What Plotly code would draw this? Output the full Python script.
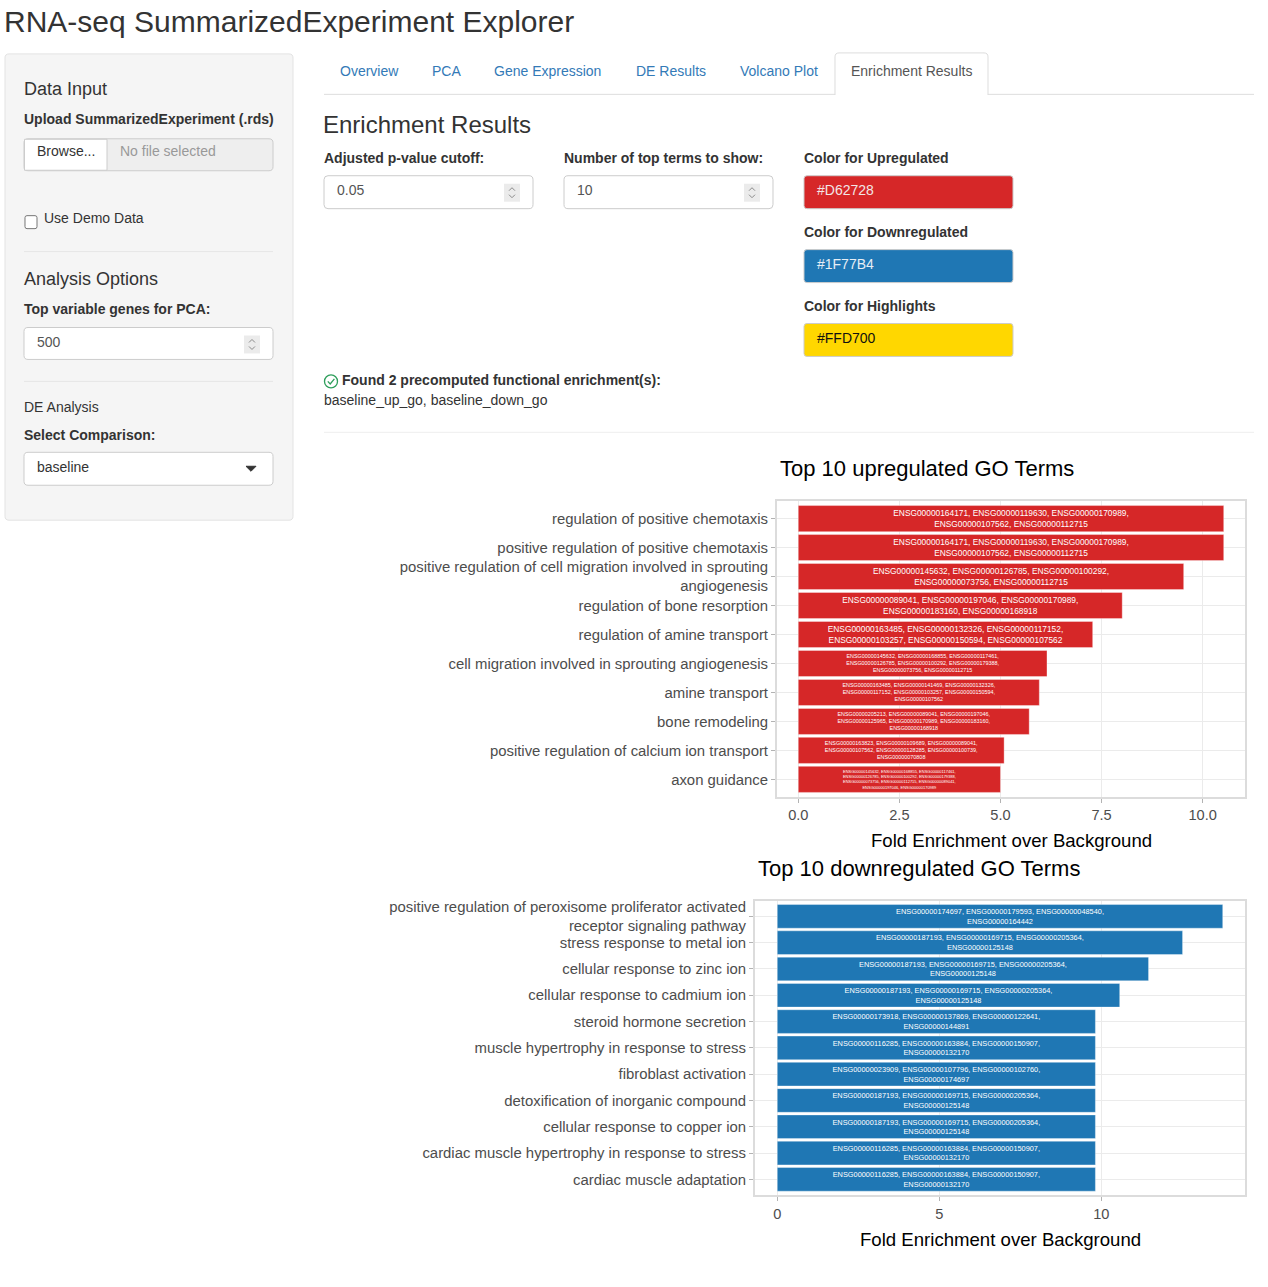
import plotly.graph_objects as go

W, H = 1268, 1287
FONT = "Liberation Sans, Arial, Helvetica, sans-serif"
TXT_DY = -1.5                # small vertical correction for text annotations

# ---------------- data ----------------
up_terms = [
    "regulation of positive chemotaxis",
    "positive regulation of positive chemotaxis",
    "positive regulation of cell migration involved in sprouting<br>angiogenesis",
    "regulation of bone resorption",
    "regulation of amine transport",
    "cell migration involved in sprouting angiogenesis",
    "amine transport",
    "bone remodeling",
    "positive regulation of calcium ion transport",
    "axon guidance",
]
up_fold = [10.52, 10.52, 9.53, 8.01, 7.28, 6.15, 5.96, 5.71, 5.09, 5.00]
up_genes = [
    "ENSG00000164171, ENSG00000119630, ENSG00000170989,<br>ENSG00000107562, ENSG00000112715",
    "ENSG00000164171, ENSG00000119630, ENSG00000170989,<br>ENSG00000107562, ENSG00000112715",
    "ENSG00000145632, ENSG00000126785, ENSG00000100292,<br>ENSG00000073756, ENSG00000112715",
    "ENSG00000089041, ENSG00000197046, ENSG00000170989,<br>ENSG00000183160, ENSG00000168918",
    "ENSG00000163485, ENSG00000132326, ENSG00000117152,<br>ENSG00000103257, ENSG00000150594, ENSG00000107562",
    "ENSG00000145632, ENSG00000168855, ENSG00000117461,<br>ENSG00000126785, ENSG00000100292, ENSG00000179388,<br>ENSG00000073756, ENSG00000112715",
    "ENSG00000163485, ENSG00000141469, ENSG00000132326,<br>ENSG00000117152, ENSG00000103257, ENSG00000150594,<br>ENSG00000107562",
    "ENSG00000205213, ENSG00000089041, ENSG00000197046,<br>ENSG00000125965, ENSG00000170989, ENSG00000183160,<br>ENSG00000168918",
    "ENSG00000163823, ENSG00000109689, ENSG00000089041,<br>ENSG00000107562, ENSG00000128285, ENSG00000100739,<br>ENSG00000070808",
    "ENSG00000145632, ENSG00000168855, ENSG00000117461,<br>ENSG00000126785, ENSG00000100292, ENSG00000179388,<br>ENSG00000073756, ENSG00000112715, ENSG00000089041,<br>ENSG00000197046, ENSG00000170989",
]

down_terms = [
    "positive regulation of peroxisome proliferator activated<br>receptor signaling pathway",
    "stress response to metal ion",
    "cellular response to zinc ion",
    "cellular response to cadmium ion",
    "steroid hormone secretion",
    "muscle hypertrophy in response to stress",
    "fibroblast activation",
    "detoxification of inorganic compound",
    "cellular response to copper ion",
    "cardiac muscle hypertrophy in response to stress",
    "cardiac muscle adaptation",
]
down_fold = [13.75, 12.51, 11.46, 10.57, 9.82, 9.82, 9.82, 9.82, 9.82, 9.82, 9.82]
down_genes = [
    "ENSG00000174697, ENSG00000179593, ENSG00000048540,<br>ENSG00000164442",
    "ENSG00000187193, ENSG00000169715, ENSG00000205364,<br>ENSG00000125148",
    "ENSG00000187193, ENSG00000169715, ENSG00000205364,<br>ENSG00000125148",
    "ENSG00000187193, ENSG00000169715, ENSG00000205364,<br>ENSG00000125148",
    "ENSG00000173918, ENSG00000137869, ENSG00000122641,<br>ENSG00000144891",
    "ENSG00000116285, ENSG00000163884, ENSG00000150907,<br>ENSG00000132170",
    "ENSG00000023909, ENSG00000107796, ENSG00000102760,<br>ENSG00000174697",
    "ENSG00000187193, ENSG00000169715, ENSG00000205364,<br>ENSG00000125148",
    "ENSG00000187193, ENSG00000169715, ENSG00000205364,<br>ENSG00000125148",
    "ENSG00000116285, ENSG00000163884, ENSG00000150907,<br>ENSG00000132170",
    "ENSG00000116285, ENSG00000163884, ENSG00000150907,<br>ENSG00000132170",
]

up_ticks = [0, 2.5, 5, 7.5, 10]
up_ticklabels = ["0.0", "2.5", "5.0", "7.5", "10.0"]
down_ticks = [0, 5, 10]
down_ticklabels = ["0", "5", "10"]

UP_COLOR = "#D62728"
DOWN_COLOR = "#1F77B4"
HIGHLIGHT_COLOR = "#FFD700"

# ---------------- helpers (page pixel -> paper) ----------------
def X(px):
    return px / W


def Y(py):
    return 1 - py / H


def P(x, y):
    return f"{X(x):.6f},{Y(y):.6f}"


shapes = []
anns = []


def rrect(x0, y0, x1, y1, r=4, fill="white", line="#cccccc", lw=1, top_only=False):
    if top_only:
        path = (f"M {P(x0, y1)} L {P(x0, y0 + r)} Q {P(x0, y0)} {P(x0 + r, y0)} "
                f"L {P(x1 - r, y0)} Q {P(x1, y0)} {P(x1, y0 + r)} L {P(x1, y1)}")
    else:
        path = (f"M {P(x0 + r, y0)} L {P(x1 - r, y0)} Q {P(x1, y0)} {P(x1, y0 + r)} "
                f"L {P(x1, y1 - r)} Q {P(x1, y1)} {P(x1 - r, y1)} L {P(x0 + r, y1)} "
                f"Q {P(x0, y1)} {P(x0, y1 - r)} L {P(x0, y0 + r)} Q {P(x0, y0)} {P(x0 + r, y0)} Z")
    shapes.append(dict(type="path", path=path, xref="paper", yref="paper",
                       fillcolor=fill, line=dict(color=line, width=lw), layer="above"))


def poly(pts, color="#888", lw=1, fill=None, close=False):
    path = "M " + " L ".join(P(x, y) for x, y in pts) + (" Z" if close else "")
    shapes.append(dict(type="path", path=path, xref="paper", yref="paper",
                       fillcolor=fill if fill else "rgba(0,0,0,0)",
                       line=dict(color=color, width=lw), layer="above"))


def hline(x0, x1, y, color="#e5e5e5", lw=1):
    shapes.append(dict(type="line", x0=X(x0), x1=X(x1), y0=Y(y), y1=Y(y),
                       xref="paper", yref="paper", line=dict(color=color, width=lw), layer="above"))


def txt(s, x, y, size=14, color="#333333", bold=False, anchor="left"):
    anns.append(dict(text=(f"<b>{s}</b>" if bold else s), x=X(x), y=Y(y + TXT_DY),
                     xref="paper", yref="paper", xanchor=anchor, yanchor="middle",
                     showarrow=False, borderpad=0, borderwidth=0,
                     font=dict(size=size, color=color, family=FONT)))


def spinner(cx, cy):
    shapes.append(dict(type="rect", x0=X(cx - 8), x1=X(cx + 8), y0=Y(cy + 9), y1=Y(cy - 9),
                       xref="paper", yref="paper", fillcolor="#ebebeb",
                       line=dict(width=0), layer="above"))
    poly([(cx - 3, cy - 2), (cx, cy - 5), (cx + 3, cy - 2)], color="#8a8a8a", lw=1)
    poly([(cx - 3, cy + 2), (cx, cy + 5), (cx + 3, cy + 2)], color="#8a8a8a", lw=1)


# ---------------- page chrome ----------------
txt("RNA-seq SummarizedExperiment Explorer", 4, 21, size=30, color="#333333")

# sidebar
rrect(5, 52, 293, 519, r=4, fill="#f5f5f5", line="#e3e3e3")
txt("Data Input", 24, 89, size=18)
txt("Upload SummarizedExperiment (.rds)", 24, 119, size=14, bold=True)
rrect(24, 137, 273, 169, r=4, fill="#eeeeee", line="#cccccc")
shapes.append(dict(type="rect", x0=X(24.5), x1=X(107), y0=Y(168.5), y1=Y(137.5),
                   xref="paper", yref="paper", fillcolor="white",
                   line=dict(color="#cccccc", width=1), layer="above"))
txt("Browse...", 65.5, 151, size=14, anchor="center")
txt("No file selected", 120, 151, size=14, color="#999999")
rrect(25, 214, 37, 227, r=2, fill="white", line="#767676")
txt("Use Demo Data", 44, 218, size=14)
hline(24, 273, 250, color="#e6e6e6")
txt("Analysis Options", 24, 279, size=18)
txt("Top variable genes for PCA:", 24, 309, size=14, bold=True)
rrect(24, 326, 273, 358, r=4, fill="white", line="#cccccc")
txt("500", 37, 342, size=14, color="#555555")
spinner(252, 343)
hline(24, 273, 380, color="#e6e6e6")
txt("DE Analysis", 24, 407, size=14)
txt("Select Comparison:", 24, 435, size=14, bold=True)
rrect(24, 451, 273, 484, r=4, fill="white", line="#cccccc")
txt("baseline", 37, 467, size=14, color="#333333")
poly([(246, 465), (256, 465), (251, 470)], color="#333333", lw=1, fill="#333333", close=True)

# tabs
hline(324, 1254, 92.5, color="#dddddd")
rrect(835, 51, 988, 93, r=4, fill="white", line="#dddddd", top_only=True)
shapes.append(dict(type="rect", x0=X(836), x1=X(987), y0=Y(94), y1=Y(91),
                   xref="paper", yref="paper", fillcolor="white", line=dict(width=0), layer="above"))
for name, xx in [("Overview", 340), ("PCA", 432), ("Gene Expression", 494),
                 ("DE Results", 636), ("Volcano Plot", 740)]:
    txt(name, xx, 71, size=14, color="#337ab7")
txt("Enrichment Results", 851, 71, size=14, color="#555555")

# controls
txt("Enrichment Results", 323, 124, size=24, color="#333333")
txt("Adjusted p-value cutoff:", 324, 158, size=14, bold=True)
txt("Number of top terms to show:", 564, 158, size=14, bold=True)
rrect(324, 174, 533, 207, r=4, fill="white", line="#cccccc")
txt("0.05", 337, 190, size=14, color="#555555")
spinner(512, 191)
rrect(564, 174, 773, 207, r=4, fill="white", line="#cccccc")
txt("10", 577, 190, size=14, color="#555555")
spinner(752, 191)

txt("Color for Upregulated", 804, 158, size=14, bold=True)
rrect(804, 174, 1013, 207, r=3, fill=UP_COLOR, line="#cccccc")
txt(UP_COLOR, 817, 190, size=14, color="#f2e6e6")
txt("Color for Downregulated", 804, 232, size=14, bold=True)
rrect(804, 248, 1013, 281, r=3, fill=DOWN_COLOR, line="#cccccc")
txt(DOWN_COLOR, 817, 264, size=14, color="#e6eef5")
txt("Color for Highlights", 804, 306, size=14, bold=True)
rrect(804, 322, 1013, 355, r=3, fill=HIGHLIGHT_COLOR, line="#cccccc")
txt(HIGHLIGHT_COLOR, 817, 338, size=14, color="#111111")

shapes.append(dict(type="circle", x0=X(324.5), x1=X(337.5), y0=Y(386.5), y1=Y(373.5),
                   xref="paper", yref="paper", line=dict(color="#2e9e5b", width=1.3), layer="above"))
poly([(327.8, 380), (330.2, 382.6), (334.4, 377.4)], color="#2e9e5b", lw=1.3)
txt("Found 2 precomputed functional enrichment(s):", 342, 380, size=14, bold=True)
txt("baseline_up_go, baseline_down_go", 324, 400, size=14)
hline(324, 1254, 431, color="#eeeeee")

# chart titles / axis titles
txt("Top 10 upregulated GO Terms", 926.5, 469, size=22, color="#000000", anchor="center")
txt("Fold Enrichment over Background", 1011, 841, size=18.6, color="#000000", anchor="center")
txt("Top 10 downregulated GO Terms", 919, 869, size=22, color="#000000", anchor="center")
txt("Fold Enrichment over Background", 1000, 1241, size=18.6, color="#000000", anchor="center")

# ---------------- charts ----------------
fig = go.Figure()

fig.add_trace(go.Bar(
    x=up_fold, y=up_terms, orientation="h", width=0.9,
    marker=dict(color=UP_COLOR, line=dict(color="rgba(255,255,255,0.35)", width=1)),
    text=up_genes, textposition="inside", insidetextanchor="middle", textangle=0,
    textfont=dict(color="#ffffff", size=10, family=FONT),
    xaxis="x", yaxis="y", hoverinfo="x+y",
))
fig.add_trace(go.Bar(
    x=down_fold, y=down_terms, orientation="h", width=0.9,
    marker=dict(color=DOWN_COLOR, line=dict(color="rgba(255,255,255,0.35)", width=1)),
    text=down_genes, textposition="inside", insidetextanchor="middle", textangle=0,
    textfont=dict(color="#ffffff", size=10, family=FONT),
    xaxis="x2", yaxis="y2", hoverinfo="x+y",
))


def xrng(vals):
    m = max(vals)
    return [-0.05 * m, 1.05 * m]


axis_common = dict(showgrid=True, gridcolor="#ebebeb", gridwidth=1, zeroline=False,
                   showline=True, mirror=True, linecolor="#dcdcdc", linewidth=2,
                   ticks="outside", ticklen=4, tickwidth=1, tickcolor="#b3b3b3",
                   fixedrange=True)
xfont = dict(size=14.6, color="#4d4d4d", family=FONT)
yfont = dict(size=14.9, color="#4d4d4d", family=FONT)

fig.update_layout(
    width=W, height=H, autosize=False,
    margin=dict(l=0, r=0, t=0, b=0),
    paper_bgcolor="white", plot_bgcolor="white",
    showlegend=False, bargap=0.1,
    font=dict(family=FONT, color="#333333"),
    xaxis=dict(domain=[X(777), X(1245)], anchor="y", range=xrng(up_fold),
               tickvals=up_ticks, ticktext=up_ticklabels, tickfont=xfont, **axis_common),
    yaxis=dict(domain=[Y(796), Y(500)], anchor="x", type="category",
               categoryorder="array", categoryarray=list(reversed(up_terms)),
               range=[-0.6, len(up_terms) - 0.4], tickfont=yfont, **axis_common),
    xaxis2=dict(domain=[X(755), X(1245)], anchor="y2", range=xrng(down_fold),
                tickvals=down_ticks, ticktext=down_ticklabels, tickfont=xfont, **axis_common),
    yaxis2=dict(domain=[Y(1195), Y(900)], anchor="x2", type="category",
                categoryorder="array", categoryarray=list(reversed(down_terms)),
                range=[-0.6, len(down_terms) - 0.4], tickfont=yfont, **axis_common),
    shapes=shapes,
    annotations=anns,
)

# remove the browser's default 8px body margin so the figure fills the window exactly
fig.write_html("out.html", config={"displayModeBar": False},
               post_script="document.body.style.margin='0px';")
